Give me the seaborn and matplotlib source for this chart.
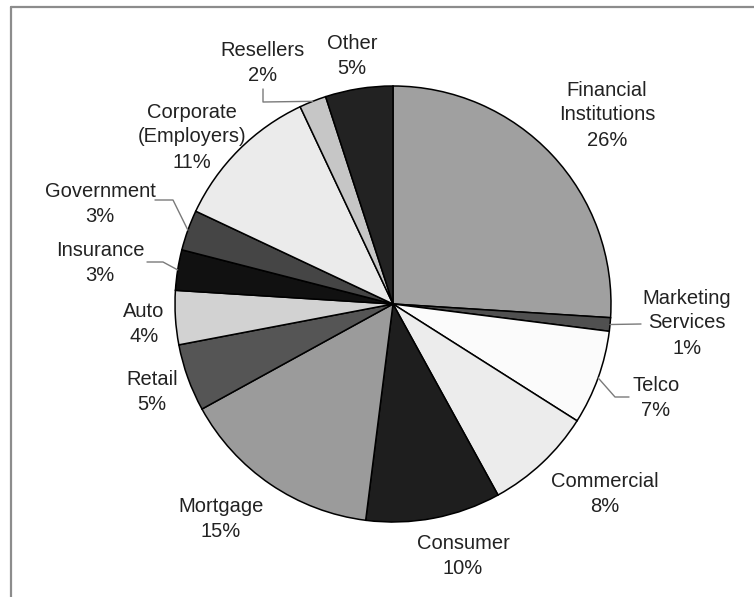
import numpy as np
import matplotlib
matplotlib.use("Agg")
import matplotlib.pyplot as plt
from matplotlib.lines import Line2D
import seaborn as sns

# Share of customers by segment (percent), clockwise from 12 o'clock
segments = ["Financial\nInstitutions", "Marketing\nServices", "Telco", "Commercial",
            "Consumer", "Mortgage", "Retail", "Auto", "Insurance", "Government",
            "Corporate\n(Employers)", "Resellers", "Other"]
shares = [26, 1, 7, 8, 10, 15, 5, 4, 3, 3, 11, 2, 5]
shades = ["#a0a0a0", "#505050", "#fbfbfb", "#ececec", "#1e1e1e", "#9b9b9b", "#555555",
          "#d2d2d2", "#111111", "#454545", "#ebebeb", "#c6c6c6", "#222222"]

sns.set_theme(style="white")
plt.rcParams["font.family"] = ["Liberation Sans", "DejaVu Sans"]

W, H = 754, 597
fig = plt.figure(figsize=(W / 100, H / 100), dpi=100)
fig.patch.set_facecolor("white")

# pie centre and radius in pixels
cx, cy, R = 393, 304, 218
ax = fig.add_axes([(cx - R) / W, (H - cy - R) / H, 2 * R / W, 2 * R / H])

wedges, _ = ax.pie(shares, colors=shades, startangle=90, counterclock=False,
                   radius=1.0, wedgeprops=dict(edgecolor="black", linewidth=1.1))
ax.set_xlim(-1, 1)
ax.set_ylim(-1, 1)
ax.set_aspect("equal")
ax.axis("off")


def px(x, y):
    """pixel position -> data coordinates of the pie axes"""
    return (x - cx) / R, (cy - y) / R


def edge_point(i):
    """point on the rim at the middle of wedge i"""
    w = wedges[i]
    a = np.deg2rad((w.theta1 + w.theta2) / 2)
    return np.cos(a), np.sin(a)


# label block centres (pixels)
label_pos = [(607, 115), (687, 323), (656, 398), (605, 494), (463, 556),
             (221, 519), (152, 392), (144, 324), (100, 263), (100, 204),
             (192, 137), (263, 63), (352, 56)]

for name, val, (lx, ly) in zip(segments, shares, label_pos):
    x, y = px(lx, ly)
    ax.text(x, y, f"{name}\n{val}%", ha="center", va="center", fontsize=14.5,
            color="#222222", linespacing=1.4, clip_on=False)

# leader lines: rim point -> elbow(s) in pixels
leaders = {1: [(641, 324)],
           2: [(615, 397), (629, 397)],
           9: [(173, 200), (155, 200)],
           8: [(163, 262), (147, 262)],
           11: [(263, 102), (263, 89)]}
for i, pts in leaders.items():
    ex, ey = edge_point(i)
    xs = [ex] + [px(*p)[0] for p in pts]
    ys = [ey] + [px(*p)[1] for p in pts]
    ax.plot(xs, ys, color="#7a7a7a", linewidth=1.0, clip_on=False)

# chart frame (top and left edges visible)
fig.add_artist(Line2D([11 / W, 1], [1 - 7 / H, 1 - 7 / H], color="#8c8c8c",
                      linewidth=1.6, transform=fig.transFigure))
fig.add_artist(Line2D([11 / W, 11 / W], [0, 1 - 7 / H], color="#8c8c8c",
                      linewidth=1.6, transform=fig.transFigure))

fig.savefig("out.png", dpi=100, facecolor="white")
